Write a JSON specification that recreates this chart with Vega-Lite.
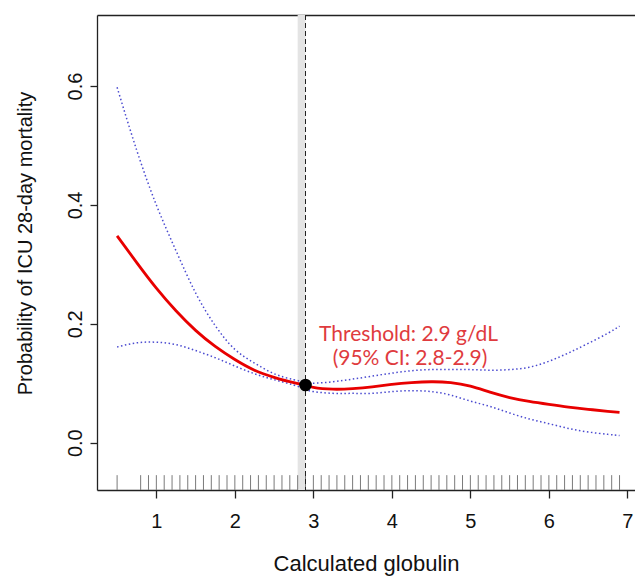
{
  "$schema": "https://vega.github.io/schema/vega-lite/v6.json",
  "width": 538,
  "height": 475,
  "autosize": "none",
  "padding": {"left": 97, "top": 15, "right": 0, "bottom": 88},
  "background": "white",
  "config": {
    "view": {"stroke": null},
    "font": "Liberation Sans",
    "axis": {
      "grid": false,
      "domainColor": "#222222",
      "tickColor": "#222222",
      "labelColor": "#111111",
      "titleColor": "#111111",
      "labelFont": "Liberation Sans",
      "titleFont": "Liberation Sans",
      "labelFontSize": 20,
      "titleFontSize": 21,
      "titleFontWeight": "normal",
      "domainWidth": 1.3,
      "tickWidth": 1.3,
      "zindex": 1
    }
  },
  "resolve": {"axis": {"x": "independent", "y": "independent"}},
  "datasets": {
    "curve": [
      {"x": 0.5, "fit": 0.348, "lo": 0.161, "hi": 0.598},
      {"x": 0.75, "fit": 0.303, "lo": 0.168, "hi": 0.492},
      {"x": 1.0, "fit": 0.26, "lo": 0.169, "hi": 0.4},
      {"x": 1.25, "fit": 0.222, "lo": 0.165, "hi": 0.323},
      {"x": 1.5, "fit": 0.189, "lo": 0.155, "hi": 0.252},
      {"x": 1.75, "fit": 0.162, "lo": 0.143, "hi": 0.197},
      {"x": 2.0, "fit": 0.14, "lo": 0.129, "hi": 0.157},
      {"x": 2.25, "fit": 0.122, "lo": 0.116, "hi": 0.134},
      {"x": 2.5, "fit": 0.11, "lo": 0.106, "hi": 0.116},
      {"x": 2.75, "fit": 0.101, "lo": 0.097, "hi": 0.106},
      {"x": 2.9, "fit": 0.097, "lo": 0.09, "hi": 0.1015},
      {"x": 3.0, "fit": 0.093, "lo": 0.086, "hi": 0.1},
      {"x": 3.25, "fit": 0.09, "lo": 0.083, "hi": 0.1025},
      {"x": 3.5, "fit": 0.091, "lo": 0.083, "hi": 0.107},
      {"x": 3.75, "fit": 0.094, "lo": 0.083, "hi": 0.112},
      {"x": 4.0, "fit": 0.098, "lo": 0.086, "hi": 0.117},
      {"x": 4.25, "fit": 0.101, "lo": 0.0875, "hi": 0.121},
      {"x": 4.5, "fit": 0.1025, "lo": 0.086, "hi": 0.123},
      {"x": 4.75, "fit": 0.101, "lo": 0.08, "hi": 0.123},
      {"x": 5.0, "fit": 0.095, "lo": 0.07, "hi": 0.123},
      {"x": 5.25, "fit": 0.085, "lo": 0.061, "hi": 0.122},
      {"x": 5.5, "fit": 0.076, "lo": 0.05, "hi": 0.123},
      {"x": 5.75, "fit": 0.0695, "lo": 0.04, "hi": 0.127},
      {"x": 6.0, "fit": 0.0645, "lo": 0.032, "hi": 0.137},
      {"x": 6.25, "fit": 0.06, "lo": 0.024, "hi": 0.151},
      {"x": 6.5, "fit": 0.0562, "lo": 0.018, "hi": 0.167},
      {"x": 6.75, "fit": 0.0528, "lo": 0.014, "hi": 0.184},
      {"x": 6.9, "fit": 0.051, "lo": 0.012, "hi": 0.196}
    ],
    "rug": [
      {"v": 0.5}, {"v": 0.8}, {"v": 0.9}, {"v": 1.0}, {"v": 1.1}, {"v": 1.2}, {"v": 1.3}, {"v": 1.4}, {"v": 1.5}, {"v": 1.6},
      {"v": 1.7}, {"v": 1.8}, {"v": 1.9}, {"v": 2.0}, {"v": 2.1}, {"v": 2.2}, {"v": 2.3}, {"v": 2.4}, {"v": 2.5}, {"v": 2.6},
      {"v": 2.7}, {"v": 2.8}, {"v": 2.9}, {"v": 3.0}, {"v": 3.1}, {"v": 3.2}, {"v": 3.3}, {"v": 3.4}, {"v": 3.5}, {"v": 3.6},
      {"v": 3.7}, {"v": 3.8}, {"v": 3.9}, {"v": 4.0}, {"v": 4.1}, {"v": 4.2}, {"v": 4.3}, {"v": 4.4}, {"v": 4.5}, {"v": 4.6},
      {"v": 4.7}, {"v": 4.8}, {"v": 4.9}, {"v": 5.0}, {"v": 5.1}, {"v": 5.2}, {"v": 5.3}, {"v": 5.4}, {"v": 5.5}, {"v": 5.6},
      {"v": 5.7}, {"v": 5.8}, {"v": 5.9}, {"v": 6.0}, {"v": 6.1}, {"v": 6.2}, {"v": 6.3}, {"v": 6.4}, {"v": 6.5}, {"v": 6.6},
      {"v": 6.7}, {"v": 6.8}, {"v": 6.9}
    ],
    "thr": [{"x": 2.9, "lo": 2.8, "p": 0.097}],
    "notes": [
      {"tx": 4.212, "ty": 0.182, "label": "Threshold: 2.9 g/dL"},
      {"tx": 4.231, "ty": 0.1415, "label": "(95% CI: 2.8-2.9)"}
    ]
  },
  "layer": [
    {
      "data": {"name": "thr"},
      "mark": {"type": "rect", "color": "#e4e4e4"},
      "encoding": {
        "x": {"field": "lo", "type": "quantitative", "scale": {"domain": [0.244, 7.097], "nice": false, "zero": false}, "axis": null},
        "x2": {"field": "x"}
      }
    },
    {
      "data": {"name": "rug"},
      "mark": {"type": "rule", "color": "#7a7a7a", "strokeWidth": 1},
      "encoding": {
        "x": {"field": "v", "type": "quantitative", "scale": {"domain": [0.244, 7.097], "nice": false, "zero": false}, "axis": null},
        "y": {"datum": -0.0796, "type": "quantitative", "scale": {"domain": [-0.0796, 0.7196], "nice": false, "zero": false}, "axis": null},
        "y2": {"datum": -0.0546}
      }
    },
    {
      "data": {"name": "thr"},
      "mark": {"type": "rule", "color": "#222222", "strokeWidth": 1, "strokeDash": [5, 3]},
      "encoding": {
        "x": {"field": "x", "type": "quantitative", "scale": {"domain": [0.244, 7.097], "nice": false, "zero": false},
          "axis": {"orient": "top", "labels": false, "ticks": false, "title": null, "domain": true}}
      }
    },
    {
      "data": {"name": "curve"},
      "mark": {"type": "line", "color": "#4a4ad0", "strokeWidth": 1.5, "strokeDash": [1.5, 2.5], "interpolate": "natural"},
      "encoding": {
        "x": {"field": "x", "type": "quantitative", "scale": {"domain": [0.244, 7.097], "nice": false, "zero": false}, "axis": null},
        "y": {"field": "hi", "type": "quantitative", "scale": {"domain": [-0.0796, 0.7196], "nice": false, "zero": false}, "axis": null}
      }
    },
    {
      "data": {"name": "curve"},
      "mark": {"type": "line", "color": "#4a4ad0", "strokeWidth": 1.5, "strokeDash": [1.5, 2.5], "interpolate": "natural"},
      "encoding": {
        "x": {"field": "x", "type": "quantitative", "scale": {"domain": [0.244, 7.097], "nice": false, "zero": false}, "axis": null},
        "y": {"field": "lo", "type": "quantitative", "scale": {"domain": [-0.0796, 0.7196], "nice": false, "zero": false}, "axis": null}
      }
    },
    {
      "data": {"name": "curve"},
      "mark": {"type": "line", "color": "#e80000", "strokeWidth": 2.8, "interpolate": "natural"},
      "encoding": {
        "x": {"field": "x", "type": "quantitative", "scale": {"domain": [0.244, 7.097], "nice": false, "zero": false},
          "axis": {"orient": "bottom", "values": [1, 2, 3, 4, 5, 6, 7], "format": "d", "tickSize": 8, "labelPadding": 13,
            "title": "Calculated globulin", "titleFontSize": 22, "titlePadding": 22}},
        "y": {"field": "fit", "type": "quantitative", "scale": {"domain": [-0.0796, 0.7196], "nice": false, "zero": false},
          "axis": {"orient": "left", "values": [0, 0.2, 0.4, 0.6], "format": ".1f", "tickSize": 7, "labelAngle": -90,
            "labelAlign": "center", "labelBaseline": "bottom", "labelPadding": 5,
            "title": "Probability of ICU 28-day mortality", "titleFontSize": 20, "titlePadding": 30, "titleY": 228}}
      }
    },
    {
      "data": {"name": "thr"},
      "mark": {"type": "point", "filled": true, "color": "#000000", "size": 160, "opacity": 1},
      "encoding": {
        "x": {"field": "x", "type": "quantitative", "scale": {"domain": [0.244, 7.097], "nice": false, "zero": false}, "axis": null},
        "y": {"field": "p", "type": "quantitative", "scale": {"domain": [-0.0796, 0.7196], "nice": false, "zero": false}, "axis": null}
      }
    },
    {
      "data": {"name": "notes"},
      "mark": {"type": "text", "color": "#df3b3e", "font": "Lato", "fontSize": 21, "align": "center", "baseline": "middle"},
      "encoding": {
        "x": {"field": "tx", "type": "quantitative", "scale": {"domain": [0.244, 7.097], "nice": false, "zero": false}, "axis": null},
        "y": {"field": "ty", "type": "quantitative", "scale": {"domain": [-0.0796, 0.7196], "nice": false, "zero": false}, "axis": null},
        "text": {"field": "label"}
      }
    }
  ]
}
